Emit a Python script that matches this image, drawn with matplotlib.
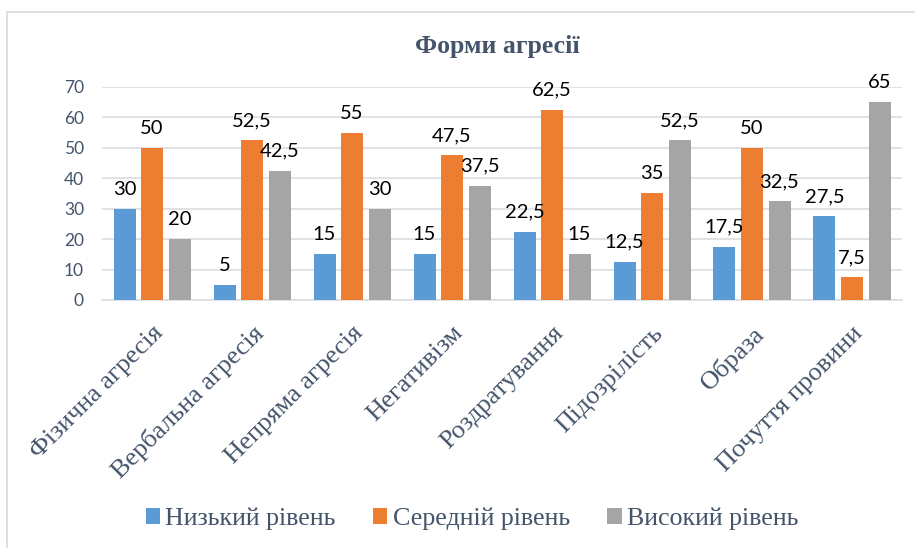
import matplotlib
matplotlib.use("Agg")
import matplotlib.pyplot as plt
import matplotlib.transforms as mtransforms
from matplotlib.patches import Rectangle
import numpy as np

categories = ["Фізична агресія", "Вербальна агресія", "Непряма агресія", "Негативізм",
              "Роздратування", "Підозрілість", "Образа", "Почуття провини"]
low_level = [30, 5, 15, 15, 22.5, 12.5, 17.5, 27.5]
mid_level = [50, 52.5, 55, 47.5, 62.5, 35, 50, 7.5]
high_level = [20, 42.5, 30, 37.5, 15, 52.5, 32.5, 65]
series_names = ["Низький рівень", "Середній рівень", "Високий рівень"]
colors = ["#5B9BD5", "#ED7D31", "#A5A5A5"]

text_col = "#44546A"
serif = ["Liberation Serif", "DejaVu Serif"]
sans = ["Lato", "DejaVu Sans"]

fig = plt.figure(figsize=(9.15, 5.48), dpi=100)
ax = fig.add_axes([102 / 915, 1 - 300 / 548, 800 / 915, 213 / 548])

# chart border (cut off on the right and bottom like in the screenshot)
fig.patches.append(Rectangle((7 / 915, -0.1), 1.2, 1 - 12 / 548 + 0.1,
                             transform=fig.transFigure, fill=False,
                             edgecolor="#D9D9D9", linewidth=1.2))

x = np.arange(len(categories))
w = 0.22
step = 0.275
for i, (vals, name, c) in enumerate(zip([low_level, mid_level, high_level], series_names, colors)):
    bars = ax.bar(x + (i - 1) * step, vals, width=w, color=c, label=name, zorder=3)
    for b, v in zip(bars, vals):
        lbl = ("%g" % v).replace(".", ",")
        ax.annotate(lbl, (b.get_x() + b.get_width() / 2, v), xytext=(0, 8),
                    textcoords="offset points", ha="center", va="bottom",
                    fontsize=14.5, family=sans, color="black", zorder=4)

ax.set_xlim(-0.5, len(categories) - 0.5)
ax.set_ylim(0, 70)
ax.set_yticks(range(0, 71, 10))
ax.yaxis.grid(True, color="#D9DDE3", linewidth=1.2, zorder=0)
for s in ["top", "right", "left"]:
    ax.spines[s].set_visible(False)
ax.spines["bottom"].set_color("#D9DDE3")
ax.spines["bottom"].set_linewidth(1.2)
ax.tick_params(axis="y", length=0, pad=13, labelsize=12.5, labelcolor=text_col)
ax.tick_params(axis="x", length=0, pad=0)
for t in ax.get_yticklabels():
    t.set_family(sans)

ax.set_xticks(x)
ax.set_xticklabels(categories, rotation=45, ha="right", va="top",
                   rotation_mode="anchor", fontsize=19, family=serif, color=text_col)
offset = mtransforms.ScaledTranslation(0 / 100, -22 / 100, fig.dpi_scale_trans)
for t in ax.get_xticklabels():
    t.set_transform(t.get_transform() + offset)

fig.text(497 / 915, 1 - 47 / 548, "Форми агресії", ha="center", va="center",
         fontsize=18.5, fontweight="bold", family=serif, color=text_col)

fig.legend(loc="center", bbox_to_anchor=(472 / 915, 1 - 519 / 548), ncol=3,
           frameon=False, prop={"family": serif, "size": 18.7},
           labelcolor=text_col, handlelength=0.55, handleheight=0.55,
           handletextpad=0.2, columnspacing=1.45)

fig.savefig("out.png", dpi=100)
